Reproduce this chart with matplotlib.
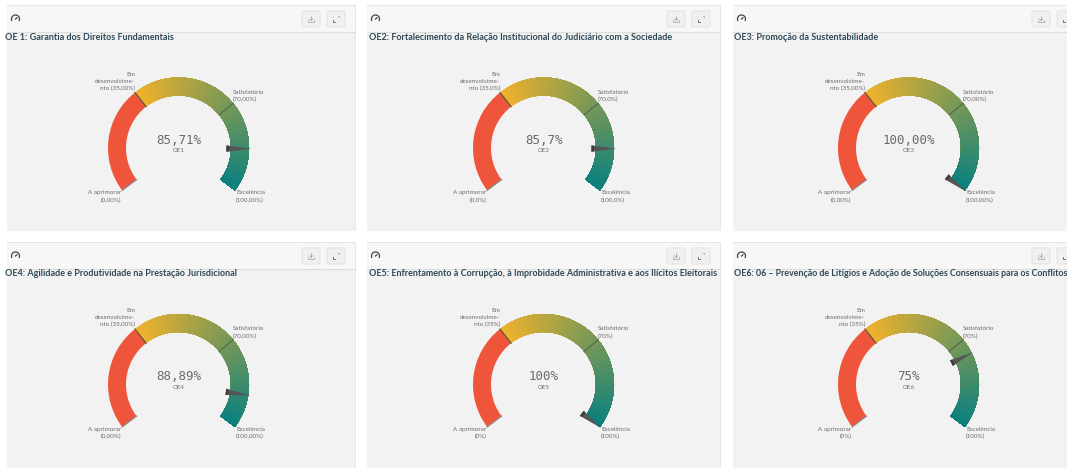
import numpy as np
import matplotlib
matplotlib.use("Agg")
import matplotlib.pyplot as plt
from matplotlib.patches import Wedge, Rectangle, FancyBboxPatch, Polygon, Arc
from matplotlib.colors import to_rgb

codes = ["OE1", "OE2", "OE3", "OE4", "OE5", "OE6"]
titles = [
    "OE 1: Garantia dos Direitos Fundamentais",
    "OE2: Fortalecimento da Relação Institucional do Judiciário com a Sociedade",
    "OE3: Promoção da Sustentabilidade",
    "OE4: Agilidade e Produtividade na Prestação Jurisdicional",
    "OE5: Enfrentamento à Corrupção, à Improbidade Administrativa e aos Ilícitos Eleitorais",
    "OE6: 06 – Prevenção de Litígios e Adoção de Soluções Consensuais para os Conflitos",
]
values = [85.71, 85.7, 100.0, 88.89, 100.0, 75.0]
value_decimals = [2, 1, 2, 2, 0, 0]
label_decimals = [2, 1, 2, 2, 0, 0]
thresholds = [0, 35, 70, 100]
threshold_names = ["A aprimorar", "Em\ndesenvolvime-\nnto", "Satisfatório", "Excelência"]

W, H = 1067, 469
TEXT = "#6E6E6E"
fig = plt.figure(figsize=(W / 100, H / 100), dpi=100, facecolor="white")
bg = fig.add_axes([0, 0, 1, 1])
bg.set_xlim(0, W); bg.set_ylim(H, 0); bg.axis("off")

panel_x = [(7, 355), (367, 720), (733, 1080)]
panel_y = [(6, 230), (243, 467)]
centers_x = [178.5, 543.5, 908.5]
centers_y = [148.0, 384.5]
title_x = [5, 369, 734]
title_sizes = [6.5, 6.5, 6.5, 6.5, 6.5, 6.4]
R_OUT, R_IN = 70.5, 52.5
A0, SWEEP = 217.0, 254.0

def angle(v):
    return A0 - SWEEP * v / 100.0

RED, YEL, TEAL = to_rgb("#EF553A"), to_rgb("#F0B22C"), to_rgb("#08807F")

def fmt(v, d):
    return f"{v:.{d}f}".replace(".", ",") + "%"

def icon_button(cx, cy, kind):
    bg.add_patch(FancyBboxPatch((cx - 9, cy - 8), 18, 16, boxstyle="round,pad=0,rounding_size=1.5",
                                fc="#F0F0F0", ec="#E2E2E2", lw=0.7, zorder=4))
    if kind == "download":
        bg.plot([cx, cx], [cy - 3, cy + 1.5], color="#A0A0A0", lw=0.5, zorder=5)
        bg.plot([cx - 1.6, cx, cx + 1.6], [cy - 0.2, cy + 1.5, cy - 0.2], color="#A0A0A0", lw=0.5, zorder=5)
        bg.plot([cx - 3, cx - 3, cx + 3, cx + 3], [cy + 1.5, cy + 2.7, cy + 2.7, cy + 1.5], color="#A0A0A0", lw=0.5, zorder=5)
    else:
        bg.plot([cx + 1.5, cx + 3, cx + 3], [cy - 3, cy - 3, cy - 1.5], color="#A8A8A8", lw=0.6, zorder=5)
        bg.plot([cx - 3, cx - 3, cx - 1.5], [cy + 1.5, cy + 3, cy + 3], color="#777777", lw=0.7, zorder=5)

for i in range(6):
    r, c = divmod(i, 3)
    x0, x1 = panel_x[c]
    y0, y1 = panel_y[r]
    # soft shadow, body, header
    bg.add_patch(Rectangle((x0 - 0.5, y0 - 0.5), x1 - x0 + 1.5, y1 - y0 + 2, fc="#F0F0F0", ec="none", zorder=1))
    bg.add_patch(Rectangle((x0 - 0.5, y0 - 0.5), x1 - x0 + 1, y1 - y0 + 1, fc="#E6E6E6", ec="none", zorder=1))
    bg.add_patch(Rectangle((x0, y0), x1 - x0, y1 - y0, fc="#F2F2F2", ec="none", zorder=2))
    bg.add_patch(Rectangle((x0, y0), x1 - x0, 26, fc="#F7F7F7", ec="none", zorder=3))
    bg.plot([x0, x1], [y0 + 26, y0 + 26], color="#DEDEDE", lw=0.8, zorder=3)
    # header icons
    ix = x0 + 8.5
    iy = y0 + 13
    bg.add_patch(Arc((ix, iy), 8, 8, theta1=-30, theta2=210, angle=180, ec="#444444", lw=0.9, zorder=5))
    bg.plot([ix, ix + 1.4], [iy, iy - 1.2], color="#444444", lw=0.9, zorder=5)
    bx = x0 + 304 if c == 0 else (x0 + 309 if c == 1 else x0 + 308)
    icon_button(bx, y0 + 13, "download")
    icon_button(bx + 25, y0 + 13, "expand")
    # title
    t = bg.text(title_x[c], y0 + 31, titles[i], fontsize=title_sizes[i], fontweight="bold", family="Lato",
                color="#2F4858", va="center", ha="left", zorder=6)
    t.set_clip_path(Rectangle((x0, y0), min(x1, W) - x0, y1 - y0, transform=bg.transData))

    # gauge: an axes whose units are pixels, centred on the gauge
    cx, cy = centers_x[c], centers_y[r]
    S = 100
    ax = fig.add_axes([(cx - S) / W, 1 - (cy + S) / H, 2 * S / W, 2 * S / H])
    ax.set_xlim(-S, S); ax.set_ylim(-S, S); ax.axis("off"); ax.patch.set_alpha(0)

    ax.add_patch(Wedge((0, 0), R_OUT, angle(thresholds[1]), angle(thresholds[0]), width=R_OUT - R_IN, fc=RED, ec="none"))
    # painter's order: every step runs to the arc's end, the next one overdraws it, so no seams show
    steps = np.linspace(thresholds[1], thresholds[3], 131)[:-1]
    for a in steps:
        f = (a - thresholds[1]) / (thresholds[3] - thresholds[1])
        col = tuple(u + (w - u) * f for u, w in zip(YEL, TEAL))
        ax.add_patch(Wedge((0, 0), R_OUT, angle(thresholds[3]), angle(a), width=R_OUT - R_IN, fc=col, ec="none"))
    for th, col, lw in zip(thresholds[:3], ["#8A8A8A", "#5A5A3A", "#4F6A50"], [0.9, 0.9, 0.8]):
        t0 = np.radians(angle(th))
        ax.plot([R_IN * np.cos(t0), R_OUT * np.cos(t0)], [R_IN * np.sin(t0), R_OUT * np.sin(t0)], color=col, lw=lw)

    # needle
    t0 = np.radians(angle(values[i]))
    u = np.array([np.cos(t0), np.sin(t0)]); n = np.array([-u[1], u[0]])
    ax.add_patch(Polygon([u * 71.5, u * 48 + n * 3, u * 48 - n * 3], fc="#555555", ec="#555555", lw=0.2, zorder=5))
    ax.add_patch(Polygon([u * 48 + n * 3, u * 48 - n * 3, u * 50.5 - n * 2.7, u * 50.5 + n * 2.7], fc="#3E3E3E", ec="none", zorder=6))

    # centre readout
    ax.text(0, 7.5, fmt(values[i], value_decimals[i]), fontsize=9.0, family="DejaVu Sans Mono", color="#6A6A6A", ha="center", va="center")
    ax.text(0, -3, codes[i], fontsize=4.4, color=TEXT, ha="center", va="center", family="Lato")

    # threshold labels
    d = label_decimals[i]
    lab = dict(fontsize=4.5, color=TEXT, family="Lato", linespacing=1.45)
    ax.text(-57, -48.5, f"{threshold_names[0]}\n({fmt(thresholds[0], d)})", ha="right", va="center", multialignment="right", **lab)
    ax.text(-43.5, 66.5, f"{threshold_names[1]} ({fmt(thresholds[1], d)})", ha="right", va="center", multialignment="right", **lab)
    ax.text(54.5, 52, f"{threshold_names[2]}\n({fmt(thresholds[2], d)})", ha="left", va="center", multialignment="left", **lab)
    ax.text(57.5, -48.5, f"{threshold_names[3]}\n({fmt(thresholds[3], d)})", ha="left", va="center", multialignment="left", **lab)

fig.savefig("out.png", dpi=100, facecolor="white")
